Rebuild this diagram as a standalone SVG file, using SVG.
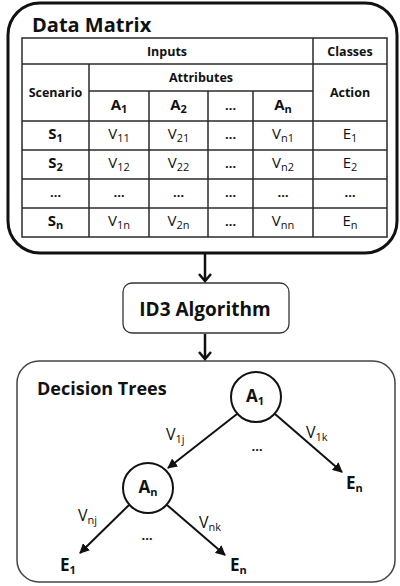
<svg xmlns="http://www.w3.org/2000/svg" width="400" height="586" viewBox="0 0 400 586">
  <style>
    text, tspan { font-family: "Open Sans", "Liberation Sans", sans-serif; fill: #111; }
    .title { font-size: 20px; font-weight: bold; }
    .hdr { font-size: 12.5px; font-weight: bold; text-anchor: middle; }
    .sym { font-size: 15px; font-weight: bold; text-anchor: middle; }
    .val { font-size: 15px; text-anchor: middle; }
    .dots { font-size: 13px; font-weight: bold; text-anchor: middle; }
    .sub { font-size: 11px; }
    .grid { stroke: #2a2a2a; stroke-width: 1.5; fill: none; }
    .edge { stroke: #111; stroke-width: 2; fill: none; }
    .flow { stroke: #111; stroke-width: 2.5; fill: none; }
    .node { fill: #fff; stroke: #111; stroke-width: 2; }
    .tlabel { font-size: 16px; }
    .leaf { font-size: 17px; font-weight: bold; }
  </style>
  <defs>
    <marker id="tri" viewBox="0 0 10 10" refX="9" refY="5" markerWidth="5" markerHeight="5" orient="auto" markerUnits="strokeWidth">
      <path d="M0,0 L10,5 L0,10 Z" fill="#111"/>
    </marker>
  </defs>

  <rect width="400" height="586" fill="#fff"/>

  <!-- Data Matrix panel -->
  <g id="data-matrix">
    <rect x="8" y="3" width="389" height="250" rx="32" ry="32" fill="#fff" stroke="#111" stroke-width="3"/>
    <text class="title" x="32" y="32">Data Matrix</text>
    <!-- table grid -->
    <rect class="grid" x="22" y="38" width="365" height="199"/>
    <line class="grid" x1="22" y1="64" x2="387" y2="64"/>
    <line class="grid" x1="89" y1="91" x2="313" y2="91"/>
    <line class="grid" x1="22" y1="121" x2="387" y2="121"/>
    <line class="grid" x1="22" y1="150" x2="387" y2="150"/>
    <line class="grid" x1="22" y1="179" x2="387" y2="179"/>
    <line class="grid" x1="22" y1="208" x2="387" y2="208"/>
    <line class="grid" x1="89" y1="64" x2="89" y2="237"/>
    <line class="grid" x1="149" y1="91" x2="149" y2="237"/>
    <line class="grid" x1="208" y1="91" x2="208" y2="237"/>
    <line class="grid" x1="253" y1="91" x2="253" y2="237"/>
    <line class="grid" x1="313" y1="38" x2="313" y2="237"/>
    <!-- headers -->
    <text class="hdr" x="167" y="56">Inputs</text>
    <text class="hdr" x="350" y="56">Classes</text>
    <text class="hdr" x="201" y="82">Attributes</text>
    <text class="hdr" x="55.5" y="97">Scenario</text>
    <text class="hdr" x="350" y="97">Action</text>
    <text class="sym" x="119" y="110">A<tspan class="sub" dy="3">1</tspan></text>
    <text class="sym" x="178.5" y="110">A<tspan class="sub" dy="3">2</tspan></text>
    <text class="dots" x="230.5" y="110">…</text>
    <text class="sym" x="283" y="110">A<tspan class="sub" dy="3">n</tspan></text>
    <!-- row S1 -->
    <text class="sym" x="55.5" y="139">S<tspan class="sub" dy="3">1</tspan></text>
    <text class="val" x="119" y="139">V<tspan class="sub" dy="3">11</tspan></text>
    <text class="val" x="178.5" y="139">V<tspan class="sub" dy="3">21</tspan></text>
    <text class="dots" x="230.5" y="139">…</text>
    <text class="val" x="283" y="139">V<tspan class="sub" dy="3">n1</tspan></text>
    <text class="val" x="350" y="139">E<tspan class="sub" dy="3">1</tspan></text>
    <!-- row S2 -->
    <text class="sym" x="55.5" y="168">S<tspan class="sub" dy="3">2</tspan></text>
    <text class="val" x="119" y="168">V<tspan class="sub" dy="3">12</tspan></text>
    <text class="val" x="178.5" y="168">V<tspan class="sub" dy="3">22</tspan></text>
    <text class="dots" x="230.5" y="168">…</text>
    <text class="val" x="283" y="168">V<tspan class="sub" dy="3">n2</tspan></text>
    <text class="val" x="350" y="168">E<tspan class="sub" dy="3">2</tspan></text>
    <!-- row ... -->
    <text class="dots" x="55.5" y="197">…</text>
    <text class="dots" x="119" y="197">…</text>
    <text class="dots" x="178.5" y="197">…</text>
    <text class="dots" x="230.5" y="197">…</text>
    <text class="dots" x="283" y="197">…</text>
    <text class="dots" x="350" y="197">…</text>
    <!-- row Sn -->
    <text class="sym" x="55.5" y="226">S<tspan class="sub" dy="3">n</tspan></text>
    <text class="val" x="119" y="226">V<tspan class="sub" dy="3">1n</tspan></text>
    <text class="val" x="178.5" y="226">V<tspan class="sub" dy="3">2n</tspan></text>
    <text class="dots" x="230.5" y="226">…</text>
    <text class="val" x="283" y="226">V<tspan class="sub" dy="3">nn</tspan></text>
    <text class="val" x="350" y="226">E<tspan class="sub" dy="3">n</tspan></text>
  </g>

  <!-- ID3 step -->
  <g id="id3">
    <rect x="123" y="283" width="166" height="50" rx="9" ry="9" fill="#fff" stroke="#333" stroke-width="1.3"/>
    <text class="title" x="205" y="316" text-anchor="middle" style="font-size:19px">ID3 Algorithm</text>
  </g>

  <!-- Decision trees panel -->
  <g id="decision-trees">
    <rect x="17" y="361" width="378" height="221" rx="22" ry="22" fill="#fff" stroke="#444" stroke-width="1.5"/>
    <text class="title" x="37" y="395" style="font-size:18px">Decision Trees</text>
  </g>

  <!-- connectors -->
  <g id="connectors">
    <line class="flow" x1="205" y1="254" x2="205" y2="281"/>
    <polyline class="flow" points="199,274 205,281 211,274"/>
    <line class="flow" x1="205" y1="334" x2="205" y2="359"/>
    <polyline class="flow" points="199,352 205,359 211,352"/>

    <line class="edge" x1="237" y1="414" x2="168" y2="468" marker-end="url(#tri)"/>
    <line class="edge" x1="275" y1="414" x2="342" y2="472" marker-end="url(#tri)"/>
    <line class="edge" x1="129" y1="505" x2="80" y2="553" marker-end="url(#tri)"/>
    <line class="edge" x1="167" y1="505" x2="225" y2="555" marker-end="url(#tri)"/>

    <text class="tlabel" x="166" y="440">V<tspan class="sub" dy="3">1j</tspan></text>
    <text class="tlabel" x="306" y="438">V<tspan class="sub" dy="3">1k</tspan></text>
    <text class="dots" x="257" y="451">…</text>
    <text class="tlabel" x="78" y="521">V<tspan class="sub" dy="3">nj</tspan></text>
    <text class="tlabel" x="199" y="528">V<tspan class="sub" dy="3">nk</tspan></text>
    <text class="dots" x="147" y="540">…</text>
  </g>

  <!-- tree nodes -->
  <g id="node-a1">
    <circle class="node" cx="256" cy="397" r="25"/>
    <text class="sym" x="255" y="402" style="font-size:17px">A<tspan class="sub" dy="3">1</tspan></text>
  </g>
  <g id="node-an">
    <circle class="node" cx="148" cy="488" r="25"/>
    <text class="sym" x="148" y="493" style="font-size:17px">A<tspan class="sub" dy="3">n</tspan></text>
  </g>
  <g id="leaf-en-right">
    <text class="leaf" x="346" y="489">E<tspan class="sub" dy="3">n</tspan></text>
  </g>
  <g id="leaf-e1">
    <text class="leaf" x="60" y="571">E<tspan class="sub" dy="3">1</tspan></text>
  </g>
  <g id="leaf-en-bottom">
    <text class="leaf" x="230" y="571">E<tspan class="sub" dy="3">n</tspan></text>
  </g>
</svg>
